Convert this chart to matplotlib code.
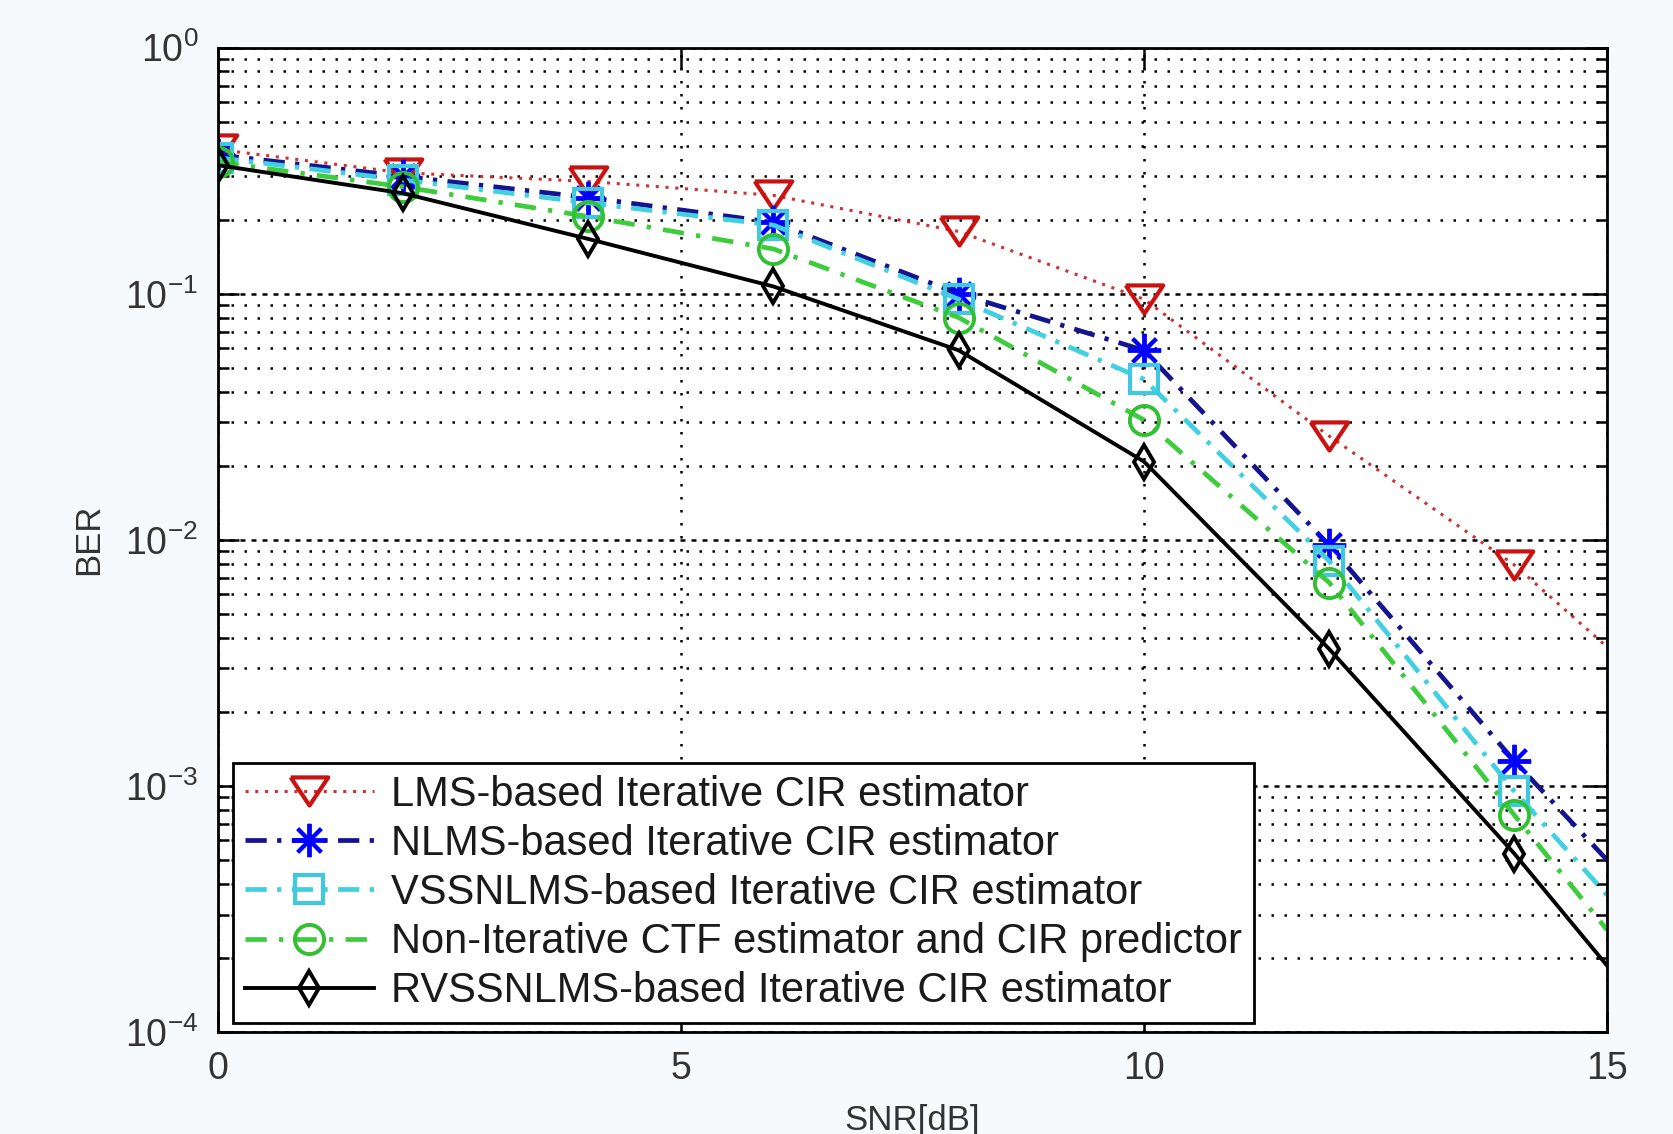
import numpy as np
import matplotlib
matplotlib.use("Agg")
import matplotlib.pyplot as plt
from matplotlib.ticker import LogLocator, NullFormatter

plt.rcParams['font.family'] = ['Liberation Sans', 'DejaVu Sans']
plt.rcParams['mathtext.default'] = 'regular'

# SNR points (markers at even SNR, last value read at the right edge x=15)
snr = [0, 2, 4, 6, 8, 10, 12, 14, 15]

ber_lms = [0.386, 0.31, 0.286, 0.251, 0.179, 0.095, 0.0264, 0.0079, 0.00367]
ber_nlms = [0.367, 0.30, 0.246, 0.195, 0.100, 0.0589, 0.0095, 0.00126, 0.0005]
ber_vss = [0.357, 0.29, 0.234, 0.19, 0.095, 0.0449, 0.0082, 0.00095, 0.00036]
ber_ctf = [0.343, 0.272, 0.206, 0.152, 0.080, 0.0307, 0.0067, 0.00076, 0.00026]
ber_rvss = [0.333, 0.256, 0.167, 0.107, 0.0589, 0.0208, 0.0036, 0.00053, 0.000186]

labels = ['LMS-based Iterative CIR estimator',
          'NLMS-based Iterative CIR estimator',
          'VSSNLMS-based Iterative CIR estimator',
          'Non-Iterative CTF estimator and CIR predictor',
          'RVSSNLMS-based Iterative CIR estimator']

# matlab-ish flat down triangle
tri = [(-1, 0.75), (1, 0.75), (0, -0.75), (-1, 0.75)]

fig = plt.figure(figsize=(16.74, 11.34), dpi=100, facecolor='#f7fafc')
ax = fig.add_axes([0.130, 0.090, 0.830, 0.868])

marks = list(range(8))
ax.semilogy(snr, ber_lms, linestyle=(0, (1, 2.2)), color='#d03030', lw=2.2, marker=tri,
            ms=27, mfc='none', mec='#cc1111', mew=3, markevery=marks, label=labels[0])
ax.semilogy(snr, ber_nlms, linestyle=(0, (4.5, 2.2, 0.9, 2.2)), color='#141490', lw=3.4, marker=(8, 2, 0),
            ms=24, mfc='#0000ff', mec='#0000ff', mew=2.8, markevery=marks, label=labels[1])
ax.semilogy(snr, ber_vss, linestyle=(0, (4.5, 2.2, 0.9, 2.2)), color='#40d0e0', lw=3.4, marker='s',
            ms=20, mfc='none', mec='#40c8e0', mew=3, markevery=marks, label=labels[2])
ax.semilogy(snr, ber_ctf, linestyle=(0, (4.5, 2.6, 0.9, 2.6)), color='#3ccc3c', lw=3.4, marker='o',
            ms=21, mfc='none', mec='#30c030', mew=2.8, markevery=marks, label=labels[3])
ax.semilogy(snr, ber_rvss, linestyle='-', color='black', lw=2.8, marker='d',
            ms=17, mfc='none', mec='black', mew=2.8, markevery=marks, label=labels[4])

ax.set_xlim(0, 15)
ax.set_ylim(1e-4, 1)
ax.set_xticks([0, 5, 10, 15])
ax.yaxis.set_major_locator(LogLocator(base=10, numticks=10))
ax.yaxis.set_minor_locator(LogLocator(base=10, subs=np.arange(2, 10), numticks=20))
ax.yaxis.set_minor_formatter(NullFormatter())

ax.grid(True, which='major', axis='x', linestyle=(0, (1, 4.2)), color='black', lw=1.8)
ax.grid(True, which='major', axis='y', linestyle=(0, (2, 2.4)), color='black', lw=1.8)
ax.grid(True, which='minor', axis='y', linestyle=(0, (1, 4.2)), color='black', lw=1.8)

ax.tick_params(which='both', direction='in', top=True, right=True, labelsize=27,
               labelcolor='#333333', width=1.8)
ax.tick_params(which='major', length=15, pad=14)
ax.tick_params(which='minor', length=8)
for s in ax.spines.values():
    s.set_linewidth(2)

ax.set_xlabel('SNR[dB]', fontsize=25, color='#333333', labelpad=12)
ax.set_ylabel('BER', fontsize=25, color='#333333', labelpad=14)

leg = ax.legend(loc='lower left', bbox_to_anchor=(0.011, 0.009), borderaxespad=0,
                fontsize=30, frameon=True, fancybox=False, edgecolor='black',
                framealpha=1, handlelength=3.1, handletextpad=0.42,
                labelspacing=0.22, borderpad=0.28, labelcolor='#1a1a1a')
leg.get_frame().set_linewidth(2)

fig.savefig('out.png', dpi=100, facecolor=fig.get_facecolor())
